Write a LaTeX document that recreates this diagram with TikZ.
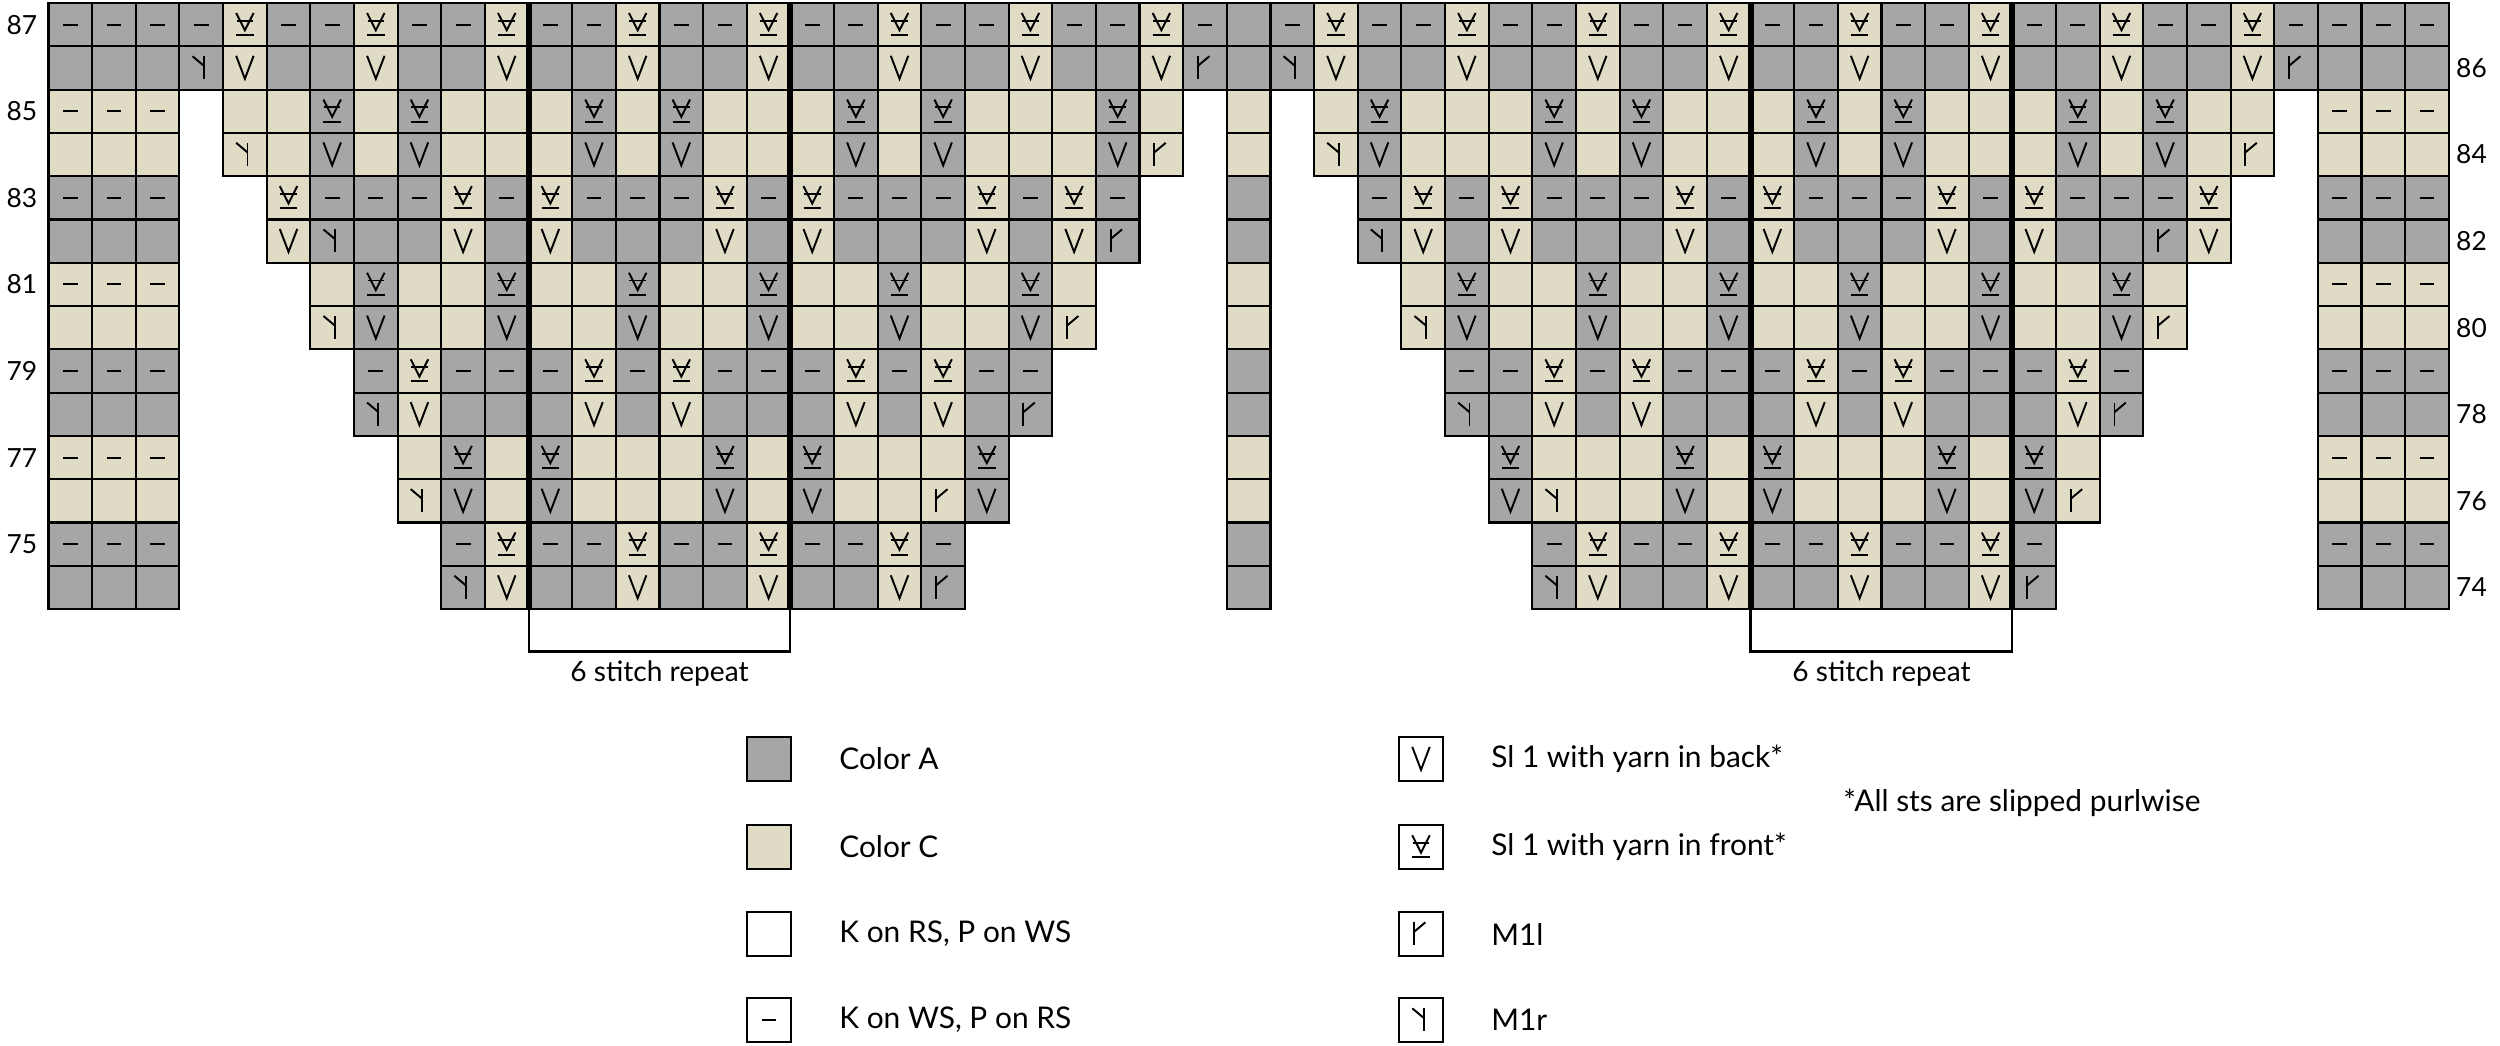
\documentclass[tikz,border=0pt]{standalone}
\usepackage{fontspec}
\setmainfont{Lato}
\definecolor{colA}{RGB}{166,166,166}
\definecolor{colC}{RGB}{223,219,197}

\tikzset{
  cellunits/.style={x=0.873cm, y=-0.866cm},
  stitch/.style={draw=black, line width=1.2pt},
  sym/.style={line width=1.1pt},
  rowlab/.style={font=\fontsize{15}{18}\selectfont},
  reptext/.style={font=\fontsize{16}{19}\selectfont},
  legtext/.style={anchor=west, inner sep=0pt, font=\fontsize{17}{20}\selectfont},
  pics/purl/.style={code={\draw[sym] (-0.17,0) -- (0.17,0);}},
  pics/slipback/.style={code={\draw[sym] (-0.2,-0.28) -- (0,0.25) -- (0.2,-0.28);}},
  pics/slipfront/.style={code={
    \draw[sym] (-0.2,-0.27) -- (0,0.13) -- (0.2,-0.27);
    \draw[sym] (-0.19,-0.09) -- (0.19,-0.09);
    \draw[sym] (-0.2,0.24) -- (0.2,0.24);}},
  pics/monel/.style={code={
    \draw[sym] (-0.16,-0.27) -- (-0.16,0.26);
    \draw[sym] (-0.16,-0.05) -- (0.1,-0.27);}},
  pics/moner/.style={code={
    \draw[sym] (0.06,-0.27) -- (0.06,0.26);
    \draw[sym] (0.06,-0.05) -- (-0.2,-0.27);}},
}

% one key of the legend: box centred at (#1,#2), filled with #3, symbol #4
\newcommand{\legkey}[4]{%
  \begin{scope}[shift={(#1,#2)}, cellunits]
  \draw[stitch, fill=#3] (-0.5,-0.5) rectangle (0.5,0.5);
  #4
  \end{scope}}

\begin{document}
\begin{tikzpicture}[x=0.02cm, y=-0.02cm]
\useasboundingbox (0,0) rectangle (2500,1045);

% chart, one cell = one unit
\begin{scope}[shift={(48.5,3)}, cellunits]
\foreach \p/\bgc/\slc/\dsh/\slips/\mr/\ml in {
  0/colA/colC/1/{4,7,10,13,16,19,22,25}/3/26,
  1/colC/colA/0/{6,8,12,14,18,20,24}/4/25,
  2/colA/colC/1/{5,9,11,15,17,21,23}/6/24,
  3/colC/colA/0/{7,10,13,16,19,22}/6/23,
  4/colA/colC/1/{8,12,14,18,20}/7/22,
  5/colC/colA/0/{9,11,15,17,21}/8/20,
  6/colA/colC/1/{10,13,16,19}/9/20}
{
  \pgfmathtruncatemacro{\ku}{2*\p}
  \pgfmathtruncatemacro{\kl}{2*\p+1}
  \pgfmathtruncatemacro{\hs}{3+\p}
  \pgfmathtruncatemacro{\he}{26-\p}
  % edge stitches and centre stitch
  \foreach \c in {0,1,2,27,52,53,54} {
    \draw[stitch, fill=\bgc] (\c,\ku) rectangle ++(1,1);
    \draw[stitch, fill=\bgc] (\c,\kl) rectangle ++(1,1);
  }
  \foreach \c in {0,1,2,52,53,54} \pic at (\c+0.5,\ku+0.5) {purl};
  % both halves, the right one mirrored
  \foreach \c in {\hs,...,\he} {
    \pgfmathtruncatemacro{\m}{54-\c}
    \foreach \x in {\c,\m} {
      \draw[stitch, fill=\bgc] (\x,\ku) rectangle ++(1,1);
      \draw[stitch, fill=\bgc] (\x,\kl) rectangle ++(1,1);
      \ifnum\dsh=1 \pic at (\x+0.5,\ku+0.5) {purl}; \fi
    }
  }
  % slipped stitches
  \foreach \s in \slips {
    \pgfmathtruncatemacro{\m}{54-\s}
    \foreach \x in {\s,\m} {
      \draw[stitch, fill=\slc] (\x,\ku) rectangle ++(1,1);
      \draw[stitch, fill=\slc] (\x,\kl) rectangle ++(1,1);
      \pic at (\x+0.5,\ku+0.5) {slipfront};
      \pic at (\x+0.5,\kl+0.5) {slipback};
    }
  }
  % increases
  \pgfmathtruncatemacro{\mrr}{54-\mr}
  \pgfmathtruncatemacro{\mll}{54-\ml}
  \pic at (\mr+0.5,\kl+0.5) {moner};
  \pic at (\ml+0.5,\kl+0.5) {monel};
  \pic at (\mrr+0.5,\kl+0.5) {monel};
  \pic at (\mll+0.5,\kl+0.5) {moner};
}
% repeat lines and brackets
\foreach \b in {11,17,39,45} \draw[line width=3.4pt] (\b,0) -- (\b,14);
\draw[line width=1.2pt] (11,14) -- (11,14.98) -- (17,14.98) -- (17,14);
\draw[line width=1.2pt] (39,14) -- (39,14.98) -- (45,14.98) -- (45,14);
\node[reptext] (repeatL) at (14,15.5) {6 stitch repeat};
\node[reptext] (repeatR) at (42,15.5) {6 stitch repeat};
% row numbers
\foreach \k in {0,...,13} {
  \pgfmathtruncatemacro{\n}{87-\k}
  \ifodd\n \node[rowlab] (row\n) at (-0.61,\k+0.5) {\n};
  \else \node[rowlab] (row\n) at (55.52,\k+0.5) {\n}; \fi
}
\end{scope}

% legend
\legkey{769}{759}{colA}{}
\legkey{769}{847}{colC}{}
\legkey{769}{934}{white}{}
\legkey{769}{1020}{white}{\pic {purl};}
\legkey{1421}{759}{white}{\pic {slipback};}
\legkey{1421}{847}{white}{\pic {slipfront};}
\legkey{1421}{934}{white}{\pic {monel};}
\legkey{1421}{1020}{white}{\pic {moner};}
\node[legtext] (keyA) at (839,759) {Color A};
\node[legtext] (keyC) at (839,847) {Color C};
\node[legtext] (keyK) at (839,934) {K on RS, P on WS};
\node[legtext] (keyP) at (839,1020) {K on WS, P on RS};
\node[legtext] (keyWyib) at (1491,759) {Sl 1 with yarn in back*};
\node[legtext] (keyWyif) at (1491,847) {Sl 1 with yarn in front*};
\node[legtext] (keyMl) at (1491,934) {M1l};
\node[legtext] (keyMr) at (1491,1020) {M1r};
\node[legtext] (note) at (1843,803) {*All sts are slipped purlwise};
\end{tikzpicture}
\end{document}
